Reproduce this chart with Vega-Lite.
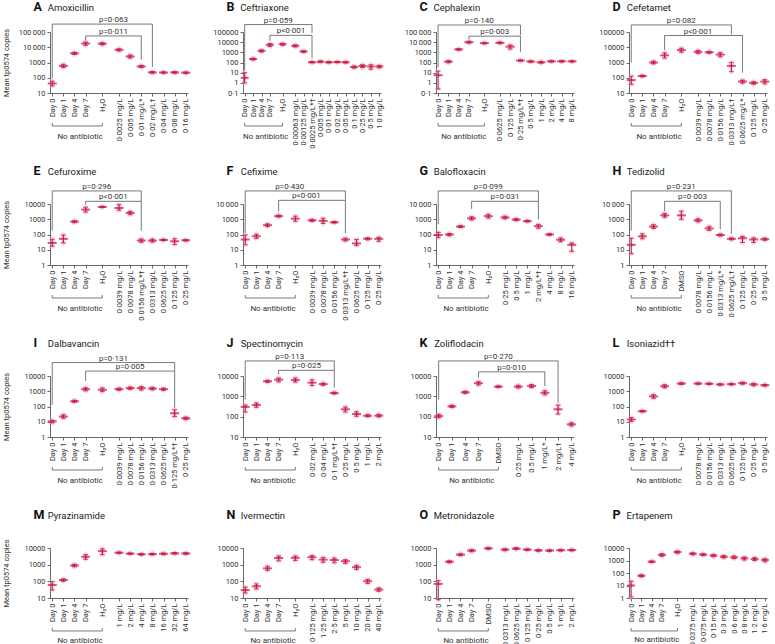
{
"$schema":"https://vega.github.io/schema/vega-lite/v6.json",
"padding":{"left":2,"top":0,"right":2,"bottom":0},
"background":"white",
"config":{
 "font":"Roboto",
 "view":{"stroke":null},
 "axis":{"grid":false,"domainColor":"#444","tickColor":"#444","labelColor":"#333","domainWidth":0.8,"tickWidth":0.8,"labelFontSize":7.5,"tickSize":3,"labelPadding":2,"titleFontWeight":"normal","titleFontSize":7.5,"titleColor":"#333","labelOverlap":false},
 "axisTop":{"domain":false,"ticks":false,"tickSize":0,"labelAngle":0,"labelAlign":"left","labelBaseline":"alphabetic","labelFontSize":9.5,"labelColor":"#222","labelFlush":false,"labelOverlap":false,"labelBound":false,"labelOffset":-5,"titleX":-17,"titleAlign":"left","titleBaseline":"alphabetic","titleFontSize":12.5,"titleFontWeight":"bold","titleColor":"#111","titleAngle":0}
},
"datasets":{
"g":[
{"p":"A","c":"Day 0","m":42,"lo":29,"hi":60},{"p":"A","c":"Day 1","m":600,"lo":470,"hi":760},{"p":"A","c":"Day 4","m":4000,"lo":3400,"hi":4600},{"p":"A","c":"Day 7","m":17500,"lo":13500,"hi":22000},{"p":"A","c":"H₂O","m":17000,"lo":14500,"hi":20000},{"p":"A","c":"0·0025 mg/L","m":6800,"lo":5700,"hi":8000},{"p":"A","c":"0·005 mg/L","m":2500,"lo":1950,"hi":3100},{"p":"A","c":"0·01 mg/L*","m":550,"lo":470,"hi":640},{"p":"A","c":"0·02 mg/L†","m":225,"lo":200,"hi":255},{"p":"A","c":"0·04 mg/L","m":220,"lo":195,"hi":245},{"p":"A","c":"0·08 mg/L","m":225,"lo":200,"hi":250},{"p":"A","c":"0·16 mg/L","m":215,"lo":190,"hi":240},
{"p":"B","c":"Day 0","m":3.1,"lo":1.0,"hi":10},{"p":"B","c":"Day 1","m":220,"lo":180,"hi":260},{"p":"B","c":"Day 4","m":1400,"lo":1100,"hi":1700},{"p":"B","c":"Day 7","m":5500,"lo":3800,"hi":7200},{"p":"B","c":"H₂O","m":6400,"lo":5000,"hi":7800},{"p":"B","c":"0·00063 mg/L","m":4400,"lo":3400,"hi":5400},{"p":"B","c":"0·00125 mg/L","m":1200,"lo":1000,"hi":1450},{"p":"B","c":"0·0025 mg/L*†","m":105,"lo":95,"hi":120},{"p":"B","c":"0·005 mg/L","m":120,"lo":105,"hi":140},{"p":"B","c":"0·01 mg/L","m":105,"lo":92,"hi":120},{"p":"B","c":"0·02 mg/L","m":110,"lo":98,"hi":125},{"p":"B","c":"0·05 mg/L","m":105,"lo":92,"hi":120},{"p":"B","c":"0·1 mg/L","m":36,"lo":28,"hi":45},{"p":"B","c":"0·25 mg/L","m":45,"lo":32,"hi":60},{"p":"B","c":"0·5 mg/L","m":40,"lo":22,"hi":60},{"p":"B","c":"1·0 mg/L","m":40,"lo":30,"hi":52},
{"p":"C","c":"Day 0","m":5.6,"lo":0.25,"hi":14},{"p":"C","c":"Day 1","m":123,"lo":95,"hi":150},{"p":"C","c":"Day 4","m":1950,"lo":1650,"hi":2300},{"p":"C","c":"Day 7","m":10000,"lo":8000,"hi":12500},{"p":"C","c":"H₂O","m":8000,"lo":7000,"hi":9000},{"p":"C","c":"0·0625 mg/L","m":8600,"lo":7200,"hi":10000},{"p":"C","c":"0·125 mg/L","m":3600,"lo":2100,"hi":5200},{"p":"C","c":"0·25 mg/L*†","m":155,"lo":140,"hi":175},{"p":"C","c":"0·5 mg/L","m":125,"lo":110,"hi":140},{"p":"C","c":"1 mg/L","m":105,"lo":85,"hi":125},{"p":"C","c":"2 mg/L","m":130,"lo":115,"hi":145},{"p":"C","c":"4 mg/L","m":130,"lo":115,"hi":145},{"p":"C","c":"8 mg/L","m":130,"lo":115,"hi":145},
{"p":"D","c":"Day 0","m":70,"lo":37,"hi":125},{"p":"D","c":"Day 1","m":130,"lo":115,"hi":145},{"p":"D","c":"Day 4","m":1000,"lo":820,"hi":1230},{"p":"D","c":"Day 7","m":2950,"lo":1950,"hi":4300},{"p":"D","c":"H₂O","m":6500,"lo":4700,"hi":8600},{"p":"D","c":"0·0039 mg/L","m":5000,"lo":3900,"hi":6200},{"p":"D","c":"0·0078 mg/L","m":4700,"lo":4100,"hi":5300},{"p":"D","c":"0·0156 mg/L","m":3300,"lo":2400,"hi":4400},{"p":"D","c":"0·0313 mg/L†","m":600,"lo":250,"hi":1000},{"p":"D","c":"0·0625 mg/L*","m":57,"lo":44,"hi":70},{"p":"D","c":"0·125 mg/L","m":46,"lo":38,"hi":55},{"p":"D","c":"0·25 mg/L","m":56,"lo":40,"hi":75},
{"p":"E","c":"Day 0","m":28,"lo":17,"hi":49},{"p":"E","c":"Day 1","m":52,"lo":28,"hi":93},{"p":"E","c":"Day 4","m":700,"lo":600,"hi":800},{"p":"E","c":"Day 7","m":4300,"lo":2950,"hi":6200},{"p":"E","c":"H₂O","m":6400,"lo":5900,"hi":6900},{"p":"E","c":"0·0039 mg/L","m":5500,"lo":3900,"hi":9100},{"p":"E","c":"0·0078 mg/L","m":2600,"lo":2000,"hi":3300},{"p":"E","c":"0·0156 mg/L*†","m":40,"lo":31,"hi":51},{"p":"E","c":"0·0313 mg/L","m":40,"lo":32,"hi":50},{"p":"E","c":"0·0625 mg/L","m":44,"lo":40,"hi":48},{"p":"E","c":"0·125 mg/L","m":36,"lo":22,"hi":53},{"p":"E","c":"0·25 mg/L","m":42,"lo":38,"hi":46},
{"p":"F","c":"Day 0","m":47,"lo":21,"hi":93},{"p":"F","c":"Day 1","m":76,"lo":56,"hi":104},{"p":"F","c":"Day 4","m":410,"lo":330,"hi":500},{"p":"F","c":"Day 7","m":1600,"lo":1400,"hi":1850},{"p":"F","c":"H₂O","m":1100,"lo":740,"hi":1600},{"p":"F","c":"0·0039 mg/L","m":850,"lo":730,"hi":980},{"p":"F","c":"0·0078 mg/L","m":780,"lo":530,"hi":1150},{"p":"F","c":"0·0156 mg/L","m":630,"lo":570,"hi":700},{"p":"F","c":"0·0313 mg/L*†","m":47,"lo":38,"hi":57},{"p":"F","c":"0·0625 mg/L","m":26,"lo":19,"hi":47},{"p":"F","c":"0·125 mg/L","m":52,"lo":45,"hi":60},{"p":"F","c":"0·25 mg/L","m":52,"lo":36,"hi":66},
{"p":"G","c":"Day 0","m":93,"lo":63,"hi":138},{"p":"G","c":"Day 1","m":100,"lo":84,"hi":115},{"p":"G","c":"Day 4","m":330,"lo":290,"hi":380},{"p":"G","c":"Day 7","m":1150,"lo":900,"hi":1450},{"p":"G","c":"H₂O","m":1600,"lo":1200,"hi":2100},{"p":"G","c":"0·25 mg/L","m":1300,"lo":1070,"hi":1580},{"p":"G","c":"0·5 mg/L","m":950,"lo":820,"hi":1100},{"p":"G","c":"1 mg/L","m":750,"lo":680,"hi":840},{"p":"G","c":"2 mg/L*†","m":350,"lo":260,"hi":460},{"p":"G","c":"4 mg/L","m":100,"lo":91,"hi":110},{"p":"G","c":"8 mg/L","m":45,"lo":34,"hi":59},{"p":"G","c":"16 mg/L","m":21,"lo":8,"hi":28},
{"p":"H","c":"Day 0","m":21,"lo":5.6,"hi":56},{"p":"H","c":"Day 1","m":76,"lo":53,"hi":110},{"p":"H","c":"Day 4","m":330,"lo":250,"hi":440},{"p":"H","c":"Day 7","m":1800,"lo":1350,"hi":2400},{"p":"H","c":"DMSO","m":1800,"lo":1000,"hi":3400},{"p":"H","c":"0·0078 mg/L","m":850,"lo":680,"hi":1070},{"p":"H","c":"0·0156 mg/L","m":250,"lo":185,"hi":340},{"p":"H","c":"0·0313 mg/L*","m":93,"lo":80,"hi":105},{"p":"H","c":"0·0625 mg/L†","m":52,"lo":45,"hi":60},{"p":"H","c":"0·125 mg/L","m":57,"lo":30,"hi":75},{"p":"H","c":"0·25 mg/L","m":47,"lo":30,"hi":60},{"p":"H","c":"0·5 mg/L","m":49,"lo":42,"hi":58},
{"p":"I","c":"Day 0","m":10.5,"lo":8.5,"hi":12.5},{"p":"I","c":"Day 1","m":22,"lo":17,"hi":29},{"p":"I","c":"Day 4","m":220,"lo":190,"hi":255},{"p":"I","c":"Day 7","m":1370,"lo":1070,"hi":1700},{"p":"I","c":"H₂O","m":1250,"lo":950,"hi":1650},{"p":"I","c":"0·0039 mg/L","m":1370,"lo":1150,"hi":1600},{"p":"I","c":"0·0078 mg/L","m":1600,"lo":1350,"hi":1900},{"p":"I","c":"0·0156 mg/L","m":1600,"lo":1200,"hi":2000},{"p":"I","c":"0·0313 mg/L","m":1500,"lo":1250,"hi":1800},{"p":"I","c":"0·0625 mg/L","m":1370,"lo":1150,"hi":1600},{"p":"I","c":"0·125 mg/L*†","m":36,"lo":22,"hi":62},{"p":"I","c":"0·25 mg/L","m":17,"lo":14,"hi":20},
{"p":"J","c":"Day 0","m":300,"lo":170,"hi":370},{"p":"J","c":"Day 1","m":370,"lo":290,"hi":470},{"p":"J","c":"Day 4","m":5500,"lo":4900,"hi":6100},{"p":"J","c":"Day 7","m":6600,"lo":5200,"hi":8000},{"p":"J","c":"H₂O","m":6300,"lo":5000,"hi":8000},{"p":"J","c":"0·02 mg/L","m":4700,"lo":3400,"hi":6500},{"p":"J","c":"0·04 mg/L","m":4000,"lo":3500,"hi":4500},{"p":"J","c":"0·1 mg/L*†","m":1450,"lo":1300,"hi":1600},{"p":"J","c":"0·25 mg/L","m":230,"lo":170,"hi":300},{"p":"J","c":"0·5 mg/L","m":135,"lo":105,"hi":175},{"p":"J","c":"1 mg/L","m":112,"lo":100,"hi":125},{"p":"J","c":"2 mg/L","m":112,"lo":97,"hi":130},
{"p":"K","c":"Day 0","m":107,"lo":88,"hi":130},{"p":"K","c":"Day 1","m":320,"lo":285,"hi":360},{"p":"K","c":"Day 4","m":1580,"lo":1400,"hi":1780},{"p":"K","c":"Day 7","m":4400,"lo":3600,"hi":5300},{"p":"K","c":"DMSO","m":3000,"lo":2800,"hi":3200},{"p":"K","c":"0·25 mg/L","m":3000,"lo":2600,"hi":3500},{"p":"K","c":"0·5 mg/L","m":3200,"lo":2700,"hi":3800},{"p":"K","c":"1 mg/L*","m":1500,"lo":1200,"hi":1900},{"p":"K","c":"2 mg/L†","m":230,"lo":135,"hi":370},{"p":"K","c":"4 mg/L","m":42,"lo":35,"hi":50},
{"p":"L","c":"Day 0","m":14,"lo":10.5,"hi":19},{"p":"L","c":"Day 1","m":49,"lo":44,"hi":54},{"p":"L","c":"Day 4","m":460,"lo":350,"hi":600},{"p":"L","c":"Day 7","m":2150,"lo":1700,"hi":2700},{"p":"L","c":"H₂O","m":3200,"lo":2800,"hi":3600},{"p":"L","c":"0·0078 mg/L","m":3200,"lo":2900,"hi":3500},{"p":"L","c":"0·0156 mg/L","m":3100,"lo":2800,"hi":3400},{"p":"L","c":"0·0313 mg/L","m":2800,"lo":2550,"hi":3050},{"p":"L","c":"0·0625 mg/L","m":2900,"lo":2650,"hi":3200},{"p":"L","c":"0·125 mg/L","m":3400,"lo":2900,"hi":3900},{"p":"L","c":"0·25 mg/L","m":2800,"lo":2300,"hi":3300},{"p":"L","c":"0·5 mg/L","m":2500,"lo":2200,"hi":2800},
{"p":"M","c":"Day 0","m":60,"lo":30,"hi":95},{"p":"M","c":"Day 1","m":120,"lo":100,"hi":140},{"p":"M","c":"Day 4","m":900,"lo":750,"hi":1050},{"p":"M","c":"Day 7","m":3000,"lo":2100,"hi":4000},{"p":"M","c":"H₂O","m":6500,"lo":4000,"hi":9000},{"p":"M","c":"1 mg/L","m":5200,"lo":4700,"hi":5700},{"p":"M","c":"2 mg/L","m":4600,"lo":4200,"hi":5000},{"p":"M","c":"4 mg/L","m":4200,"lo":3800,"hi":4600},{"p":"M","c":"8 mg/L","m":4300,"lo":3900,"hi":4700},{"p":"M","c":"16 mg/L","m":4500,"lo":4000,"hi":5000},{"p":"M","c":"32 mg/L","m":4800,"lo":4300,"hi":5300},{"p":"M","c":"64 mg/L","m":4700,"lo":4200,"hi":5200},
{"p":"N","c":"Day 0","m":30,"lo":20,"hi":45},{"p":"N","c":"Day 1","m":50,"lo":35,"hi":70},{"p":"N","c":"Day 4","m":600,"lo":450,"hi":800},{"p":"N","c":"Day 7","m":2500,"lo":1700,"hi":3300},{"p":"N","c":"H₂O","m":2600,"lo":1800,"hi":3300},{"p":"N","c":"0·125 mg/L","m":2800,"lo":2000,"hi":3500},{"p":"N","c":"1·25 mg/L","m":2000,"lo":1400,"hi":2700},{"p":"N","c":"2·5 mg/L","m":1900,"lo":1300,"hi":2500},{"p":"N","c":"5 mg/L","m":1600,"lo":1200,"hi":2000},{"p":"N","c":"10 mg/L","m":700,"lo":520,"hi":900},{"p":"N","c":"20 mg/L","m":100,"lo":75,"hi":130},{"p":"N","c":"40 mg/L","m":32,"lo":25,"hi":40},
{"p":"O","c":"Day 0","m":70,"lo":8,"hi":110},{"p":"O","c":"Day 1","m":1500,"lo":1300,"hi":1700},{"p":"O","c":"Day 4","m":4000,"lo":3500,"hi":4500},{"p":"O","c":"Day 7","m":7000,"lo":6000,"hi":8000},{"p":"O","c":"DMSO","m":9500,"lo":8500,"hi":10500},{"p":"O","c":"0·0313 mg/L","m":8000,"lo":7000,"hi":9000},{"p":"O","c":"0·0625 mg/L","m":9200,"lo":8200,"hi":10200},{"p":"O","c":"0·125 mg/L","m":8000,"lo":7200,"hi":8800},{"p":"O","c":"0·25 mg/L","m":7200,"lo":6400,"hi":8000},{"p":"O","c":"0·5 mg/L","m":7000,"lo":6300,"hi":7700},{"p":"O","c":"1 mg/L","m":7400,"lo":6700,"hi":8100},{"p":"O","c":"2 mg/L","m":7500,"lo":6800,"hi":8200},
{"p":"P","c":"Day 0","m":10,"lo":1.2,"hi":22},{"p":"P","c":"Day 1","m":60,"lo":50,"hi":72},{"p":"P","c":"Day 4","m":800,"lo":700,"hi":920},{"p":"P","c":"Day 7","m":2800,"lo":2200,"hi":3500},{"p":"P","c":"H₂O","m":4800,"lo":3800,"hi":5800},{"p":"P","c":"0·0375 mg/L","m":3500,"lo":2900,"hi":4100},{"p":"P","c":"0·075 mg/L","m":3000,"lo":2500,"hi":3500},{"p":"P","c":"0·15 mg/L","m":2500,"lo":2000,"hi":3000},{"p":"P","c":"0·3 mg/L","m":2000,"lo":1600,"hi":2500},{"p":"P","c":"0·6 mg/L","m":1800,"lo":1400,"hi":2300},{"p":"P","c":"0·8 mg/L","m":1500,"lo":1100,"hi":1900},{"p":"P","c":"1·2 mg/L","m":1300,"lo":1000,"hi":1700},{"p":"P","c":"1·6 mg/L","m":1100,"lo":800,"hi":1400}
],
"ln":[
{"p":"A","b":1,"o":1,"c":"Day 0","y":90},{"p":"A","b":1,"o":2,"c":"Day 0","y":330000},{"p":"A","b":1,"o":3,"c":"0·02 mg/L†","y":330000},{"p":"A","b":1,"o":4,"c":"0·02 mg/L†","y":500},
{"p":"A","b":2,"o":1,"c":"Day 7","y":28000},{"p":"A","b":2,"o":2,"c":"Day 7","y":55000},{"p":"A","b":2,"o":3,"c":"0·01 mg/L*","y":55000},{"p":"A","b":2,"o":4,"c":"0·01 mg/L*","y":1500},
{"p":"A","b":3,"o":1,"c":"Day 0","y":0.108},{"p":"A","b":3,"o":2,"c":"Day 0","y":0.0686},{"p":"A","b":3,"o":3,"c":"H₂O","y":0.0686},{"p":"A","b":3,"o":4,"c":"H₂O","y":0.108},
{"p":"B","b":1,"o":1,"c":"Day 0","y":18},{"p":"B","b":1,"o":2,"c":"Day 0","y":540000},{"p":"B","b":1,"o":3,"c":"0·0025 mg/L*†","y":540000},{"p":"B","b":1,"o":4,"c":"0·0025 mg/L*†","y":80000},
{"p":"B","b":2,"o":1,"c":"Day 7","y":14000},{"p":"B","b":2,"o":2,"c":"Day 7","y":47000},{"p":"B","b":2,"o":3,"c":"0·0025 mg/L*†","y":47000},{"p":"B","b":2,"o":4,"c":"0·0025 mg/L*†","y":260},
{"p":"B","b":3,"o":1,"c":"Day 0","y":0.000112},{"p":"B","b":3,"o":2,"c":"Day 0","y":0.0000568},{"p":"B","b":3,"o":3,"c":"H₂O","y":0.0000568},{"p":"B","b":3,"o":4,"c":"H₂O","y":0.000112},
{"p":"C","b":1,"o":1,"c":"Day 0","y":32},{"p":"C","b":1,"o":2,"c":"Day 0","y":490000},{"p":"C","b":1,"o":3,"c":"0·25 mg/L*†","y":490000},{"p":"C","b":1,"o":4,"c":"0·25 mg/L*†","y":50000},
{"p":"C","b":2,"o":1,"c":"Day 7","y":20000},{"p":"C","b":2,"o":2,"c":"Day 7","y":39000},{"p":"C","b":2,"o":3,"c":"0·25 mg/L*†","y":39000},{"p":"C","b":2,"o":4,"c":"0·25 mg/L*†","y":1100},
{"p":"C","b":3,"o":1,"c":"Day 0","y":0.000112},{"p":"C","b":3,"o":2,"c":"Day 0","y":0.0000568},{"p":"C","b":3,"o":3,"c":"H₂O","y":0.0000568},{"p":"C","b":3,"o":4,"c":"H₂O","y":0.000112},
{"p":"D","b":1,"o":1,"c":"Day 0","y":1000},{"p":"D","b":1,"o":2,"c":"Day 0","y":290000},{"p":"D","b":1,"o":3,"c":"0·0313 mg/L†","y":290000},{"p":"D","b":1,"o":4,"c":"0·0313 mg/L†","y":69000},
{"p":"D","b":2,"o":1,"c":"Day 7","y":6500},{"p":"D","b":2,"o":2,"c":"Day 7","y":59000},{"p":"D","b":2,"o":3,"c":"0·0625 mg/L*","y":59000},{"p":"D","b":2,"o":4,"c":"0·0625 mg/L*","y":215},
{"p":"D","b":3,"o":1,"c":"Day 0","y":0.108},{"p":"D","b":3,"o":2,"c":"Day 0","y":0.0686},{"p":"D","b":3,"o":3,"c":"H₂O","y":0.0686},{"p":"D","b":3,"o":4,"c":"H₂O","y":0.108},
{"p":"E","b":1,"o":1,"c":"Day 0","y":180},{"p":"E","b":1,"o":2,"c":"Day 0","y":72000},{"p":"E","b":1,"o":3,"c":"0·0156 mg/L*†","y":72000},{"p":"E","b":1,"o":4,"c":"0·0156 mg/L*†","y":15000},
{"p":"E","b":2,"o":1,"c":"Day 7","y":9000},{"p":"E","b":2,"o":2,"c":"Day 7","y":15000},{"p":"E","b":2,"o":3,"c":"0·0156 mg/L*†","y":15000},{"p":"E","b":2,"o":4,"c":"0·0156 mg/L*†","y":180},
{"p":"E","b":3,"o":1,"c":"Day 0","y":0.0108},{"p":"E","b":3,"o":2,"c":"Day 0","y":0.00686},{"p":"E","b":3,"o":3,"c":"H₂O","y":0.00686},{"p":"E","b":3,"o":4,"c":"H₂O","y":0.0108},
{"p":"F","b":1,"o":1,"c":"Day 0","y":125},{"p":"F","b":1,"o":2,"c":"Day 0","y":72000},{"p":"F","b":1,"o":3,"c":"0·0313 mg/L*†","y":72000},{"p":"F","b":1,"o":4,"c":"0·0313 mg/L*†","y":17400},
{"p":"F","b":2,"o":1,"c":"Day 7","y":3400},{"p":"F","b":2,"o":2,"c":"Day 7","y":17400},{"p":"F","b":2,"o":3,"c":"0·0313 mg/L*†","y":17400},{"p":"F","b":2,"o":4,"c":"0·0313 mg/L*†","y":125},
{"p":"F","b":3,"o":1,"c":"Day 0","y":0.0108},{"p":"F","b":3,"o":2,"c":"Day 0","y":0.00686},{"p":"F","b":3,"o":3,"c":"H₂O","y":0.00686},{"p":"F","b":3,"o":4,"c":"H₂O","y":0.0108},
{"p":"G","b":1,"o":1,"c":"Day 0","y":470},{"p":"G","b":1,"o":2,"c":"Day 0","y":72000},{"p":"G","b":1,"o":3,"c":"2 mg/L*†","y":72000},{"p":"G","b":1,"o":4,"c":"2 mg/L*†","y":15000},
{"p":"G","b":2,"o":1,"c":"Day 7","y":4800},{"p":"G","b":2,"o":2,"c":"Day 7","y":15000},{"p":"G","b":2,"o":3,"c":"2 mg/L*†","y":15000},{"p":"G","b":2,"o":4,"c":"2 mg/L*†","y":1000},
{"p":"G","b":3,"o":1,"c":"Day 0","y":0.0108},{"p":"G","b":3,"o":2,"c":"Day 0","y":0.00686},{"p":"G","b":3,"o":3,"c":"H₂O","y":0.00686},{"p":"G","b":3,"o":4,"c":"H₂O","y":0.0108},
{"p":"H","b":1,"o":1,"c":"Day 0","y":180},{"p":"H","b":1,"o":2,"c":"Day 0","y":72000},{"p":"H","b":1,"o":3,"c":"0·0625 mg/L†","y":72000},{"p":"H","b":1,"o":4,"c":"0·0625 mg/L†","y":110},
{"p":"H","b":2,"o":1,"c":"Day 7","y":3400},{"p":"H","b":2,"o":2,"c":"Day 7","y":15000},{"p":"H","b":2,"o":3,"c":"0·0313 mg/L*","y":15000},{"p":"H","b":2,"o":4,"c":"0·0313 mg/L*","y":220},
{"p":"H","b":3,"o":1,"c":"Day 0","y":0.0108},{"p":"H","b":3,"o":2,"c":"Day 0","y":0.00686},{"p":"H","b":3,"o":3,"c":"DMSO","y":0.00686},{"p":"H","b":3,"o":4,"c":"DMSO","y":0.0108},
{"p":"I","b":1,"o":1,"c":"Day 0","y":130},{"p":"I","b":1,"o":2,"c":"Day 0","y":76000},{"p":"I","b":1,"o":3,"c":"0·125 mg/L*†","y":76000},{"p":"I","b":1,"o":4,"c":"0·125 mg/L*†","y":21000},
{"p":"I","b":2,"o":1,"c":"Day 7","y":4700},{"p":"I","b":2,"o":2,"c":"Day 7","y":21000},{"p":"I","b":2,"o":3,"c":"0·125 mg/L*†","y":21000},{"p":"I","b":2,"o":4,"c":"0·125 mg/L*†","y":80},
{"p":"I","b":3,"o":1,"c":"Day 0","y":0.0108},{"p":"I","b":3,"o":2,"c":"Day 0","y":0.00686},{"p":"I","b":3,"o":3,"c":"H₂O","y":0.00686},{"p":"I","b":3,"o":4,"c":"H₂O","y":0.0108},
{"p":"J","b":1,"o":1,"c":"Day 0","y":700},{"p":"J","b":1,"o":2,"c":"Day 0","y":55000},{"p":"J","b":1,"o":3,"c":"0·1 mg/L*†","y":55000},{"p":"J","b":1,"o":4,"c":"0·1 mg/L*†","y":19000},
{"p":"J","b":2,"o":1,"c":"Day 7","y":12000},{"p":"J","b":2,"o":2,"c":"Day 7","y":19000},{"p":"J","b":2,"o":3,"c":"0·1 mg/L*†","y":19000},{"p":"J","b":2,"o":4,"c":"0·1 mg/L*†","y":2700},
{"p":"J","b":3,"o":1,"c":"Day 0","y":0.335},{"p":"J","b":3,"o":2,"c":"Day 0","y":0.238},{"p":"J","b":3,"o":3,"c":"H₂O","y":0.238},{"p":"J","b":3,"o":4,"c":"H₂O","y":0.335},
{"p":"K","b":1,"o":1,"c":"Day 0","y":700},{"p":"K","b":1,"o":2,"c":"Day 0","y":55000},{"p":"K","b":1,"o":3,"c":"2 mg/L†","y":55000},{"p":"K","b":1,"o":4,"c":"2 mg/L†","y":490},
{"p":"K","b":2,"o":1,"c":"Day 7","y":8300},{"p":"K","b":2,"o":2,"c":"Day 7","y":16000},{"p":"K","b":2,"o":3,"c":"1 mg/L*","y":16000},{"p":"K","b":2,"o":4,"c":"1 mg/L*","y":3200},
{"p":"K","b":3,"o":1,"c":"Day 0","y":0.335},{"p":"K","b":3,"o":2,"c":"Day 0","y":0.238},{"p":"K","b":3,"o":3,"c":"DMSO","y":0.238},{"p":"K","b":3,"o":4,"c":"DMSO","y":0.335},
{"p":"L","b":3,"o":1,"c":"Day 0","y":0.0108},{"p":"L","b":3,"o":2,"c":"Day 0","y":0.00686},{"p":"L","b":3,"o":3,"c":"H₂O","y":0.00686},{"p":"L","b":3,"o":4,"c":"H₂O","y":0.0108},
{"p":"M","b":3,"o":1,"c":"Day 0","y":0.158},{"p":"M","b":3,"o":2,"c":"Day 0","y":0.105},{"p":"M","b":3,"o":3,"c":"H₂O","y":0.105},{"p":"M","b":3,"o":4,"c":"H₂O","y":0.158},
{"p":"N","b":3,"o":1,"c":"Day 0","y":0.158},{"p":"N","b":3,"o":2,"c":"Day 0","y":0.105},{"p":"N","b":3,"o":3,"c":"H₂O","y":0.105},{"p":"N","b":3,"o":4,"c":"H₂O","y":0.158},
{"p":"O","b":3,"o":1,"c":"Day 0","y":0.158},{"p":"O","b":3,"o":2,"c":"Day 0","y":0.105},{"p":"O","b":3,"o":3,"c":"DMSO","y":0.105},{"p":"O","b":3,"o":4,"c":"DMSO","y":0.158},
{"p":"P","b":3,"o":1,"c":"Day 0","y":0.004},{"p":"P","b":3,"o":2,"c":"Day 0","y":0.0023},{"p":"P","b":3,"o":3,"c":"H₂O","y":0.0023},{"p":"P","b":3,"o":4,"c":"H₂O","y":0.004}
],
"tx":[
{"p":"A","c":"_7","y":600000,"t":"p=0·063"},{"p":"A","c":"_7","y":100000,"t":"p=0·011"},{"p":"A","c":"_3","y":0.013,"t":"No antibiotic"},
{"p":"B","c":"_5","y":1300000,"t":"p=0·059"},{"p":"B","c":"_7","y":115000,"t":"p<0·001"},{"p":"B","c":"_3","y":0.0000047,"t":"No antibiotic"},
{"p":"C","c":"_5","y":1200000,"t":"p=0·140"},{"p":"C","c":"_7","y":95000,"t":"p=0·003"},{"p":"C","c":"_3","y":0.0000047,"t":"No antibiotic"},
{"p":"D","c":"H₂O","y":520000,"t":"p=0·082"},{"p":"D","c":"0·0039 mg/L","y":107000,"t":"p<0·001"},{"p":"D","c":"_3","y":0.013,"t":"No antibiotic"},
{"p":"E","c":"_5","y":130000,"t":"p=0·296"},{"p":"E","c":"_7","y":27000,"t":"p<0·001"},{"p":"E","c":"_3","y":0.0013,"t":"No antibiotic"},
{"p":"F","c":"_5","y":130000,"t":"p=0·430"},{"p":"F","c":"_7","y":32000,"t":"p<0·001"},{"p":"F","c":"_3","y":0.0013,"t":"No antibiotic"},
{"p":"G","c":"H₂O","y":130000,"t":"p=0·099"},{"p":"G","c":"0·25 mg/L","y":27000,"t":"p=0·031"},{"p":"G","c":"_3","y":0.0013,"t":"No antibiotic"},
{"p":"H","c":"DMSO","y":130000,"t":"p=0·231"},{"p":"H","c":"_7","y":27000,"t":"p=0·003"},{"p":"H","c":"_3","y":0.0013,"t":"No antibiotic"},
{"p":"I","c":"_7","y":137000,"t":"p=0·131"},{"p":"I","c":"0·0078 mg/L","y":39000,"t":"p=0·005"},{"p":"I","c":"_3","y":0.0013,"t":"No antibiotic"},
{"p":"J","c":"_5","y":87000,"t":"p=0·113"},{"p":"J","c":"_7","y":30000,"t":"p=0·025"},{"p":"J","c":"_3","y":0.0686,"t":"No antibiotic"},
{"p":"K","c":"DMSO","y":87000,"t":"p=0·270"},{"p":"K","c":"_7","y":26000,"t":"p=0·010"},{"p":"K","c":"_3","y":0.0686,"t":"No antibiotic"},
{"p":"L","c":"_3","y":0.0013,"t":"No antibiotic"},
{"p":"M","c":"_3","y":0.028,"t":"No antibiotic"},
{"p":"N","c":"_3","y":0.028,"t":"No antibiotic"},
{"p":"O","c":"_3","y":0.028,"t":"No antibiotic"},
{"p":"P","c":"_3","y":0.00042,"t":"No antibiotic"}
]
},
"columns":4,
"spacing":{"row":111,"column":55},
"bounds":"flush",
"concat":[
{"width":138,"height":61,"resolve":{"axis":{"x":"independent","y":"independent"}},"layer":[
{"data":{"name":"g"},"transform":[{"filter":"datum.p==='A'"},{"fold":["lo","m","hi"],"as":["k","v"]}],"mark":{"type":"circle","size":24,"opacity":0.5,"color":"#f3aabd"},"encoding":{"x":{"field":"c","type":"nominal","scale":{"type":"point"},"axis":{"orient":"top","values":["Day 0"],"labelExpr":"'Amoxicillin'","labelPadding":21.5,"title":"A","titleY":-21.5}},"y":{"field":"v","type":"quantitative","scale":{"type":"log"},"axis":null}}},
{"data":{"name":"g"},"transform":[{"filter":"datum.p==='A'"}],"mark":{"type":"rule","color":"#c8103c","strokeWidth":1.1},"encoding":{"x":{"field":"c","type":"nominal","scale":{"type":"point"},"axis":null},"y":{"field":"lo","type":"quantitative","scale":{"type":"log"},"axis":null},"y2":{"field":"hi"}}},
{"data":{"name":"g"},"transform":[{"filter":"datum.p==='A'"},{"fold":["lo","hi"],"as":["k","v"]}],"mark":{"type":"tick","color":"#c8103c","size":5,"thickness":1.1},"encoding":{"x":{"field":"c","type":"nominal","scale":{"type":"point"},"axis":null},"y":{"field":"v","type":"quantitative","scale":{"type":"log"},"axis":null}}},
{"data":{"name":"g"},"transform":[{"filter":"datum.p==='A'"}],"mark":{"type":"tick","color":"#c8103c","size":9,"thickness":2},"encoding":{"x":{"field":"c","type":"nominal","scale":{"type":"point","padding":0.4,"domain":["Day 0","_1","Day 1","_2","Day 4","_3","Day 7","_4","_5","H₂O","_6","_7","0·0025 mg/L","_8","0·005 mg/L","_9","0·01 mg/L*","_10","0·02 mg/L†","_11","0·04 mg/L","_12","0·08 mg/L","_13","0·16 mg/L"]},"axis":{"orient":"bottom","title":null,"labelAngle":-90,"values":["Day 0","Day 1","Day 4","Day 7","H₂O","0·0025 mg/L","0·005 mg/L","0·01 mg/L*","0·02 mg/L†","0·04 mg/L","0·08 mg/L","0·16 mg/L"]}},"y":{"field":"m","type":"quantitative","scale":{"type":"log","domain":[10,100000]},"axis":{"orient":"left","values":[10,100,1000,10000,100000],"labelExpr":"datum.value >= 10000 ? replace(format(datum.value, ','), ',', '\u2009') : replace(format(datum.value, '~r'), '.', '·')","title":"Mean tp0574 copies","titlePadding":8}}}},
{"data":{"name":"ln"},"transform":[{"filter":"datum.p==='A'"}],"mark":{"type":"line","color":"#555","strokeWidth":0.8},"encoding":{"x":{"field":"c","type":"nominal","scale":{"type":"point"},"axis":null},"y":{"field":"y","type":"quantitative","scale":{"type":"log"},"axis":null},"detail":{"field":"b"},"order":{"field":"o"}}},
{"data":{"name":"tx"},"transform":[{"filter":"datum.p==='A'"}],"mark":{"type":"text","fontSize":8,"color":"#333","baseline":"middle"},"encoding":{"x":{"field":"c","type":"nominal","scale":{"type":"point"},"axis":null},"y":{"field":"y","type":"quantitative","scale":{"type":"log"},"axis":null},"text":{"field":"t"}}}
]},
{"width":138,"height":61,"resolve":{"axis":{"x":"independent","y":"independent"}},"layer":[
{"data":{"name":"g"},"transform":[{"filter":"datum.p==='B'"},{"fold":["lo","m","hi"],"as":["k","v"]}],"mark":{"type":"circle","size":24,"opacity":0.5,"color":"#f3aabd"},"encoding":{"x":{"field":"c","type":"nominal","scale":{"type":"point"},"axis":{"orient":"top","values":["Day 0"],"labelExpr":"'Ceftriaxone'","labelPadding":21.5,"title":"B","titleY":-21.5}},"y":{"field":"v","type":"quantitative","scale":{"type":"log"},"axis":null}}},
{"data":{"name":"g"},"transform":[{"filter":"datum.p==='B'"}],"mark":{"type":"rule","color":"#c8103c","strokeWidth":1.1},"encoding":{"x":{"field":"c","type":"nominal","scale":{"type":"point"},"axis":null},"y":{"field":"lo","type":"quantitative","scale":{"type":"log"},"axis":null},"y2":{"field":"hi"}}},
{"data":{"name":"g"},"transform":[{"filter":"datum.p==='B'"},{"fold":["lo","hi"],"as":["k","v"]}],"mark":{"type":"tick","color":"#c8103c","size":5,"thickness":1.1},"encoding":{"x":{"field":"c","type":"nominal","scale":{"type":"point"},"axis":null},"y":{"field":"v","type":"quantitative","scale":{"type":"log"},"axis":null}}},
{"data":{"name":"g"},"transform":[{"filter":"datum.p==='B'"}],"mark":{"type":"tick","color":"#c8103c","size":8,"thickness":2},"encoding":{"x":{"field":"c","type":"nominal","scale":{"type":"point","padding":0.4,"domain":["Day 0","_1","Day 1","_2","Day 4","_3","Day 7","_4","_5","H₂O","_6","_7","0·00063 mg/L","_8","0·00125 mg/L","_9","0·0025 mg/L*†","_10","0·005 mg/L","_11","0·01 mg/L","_12","0·02 mg/L","_13","0·05 mg/L","_14","0·1 mg/L","_15","0·25 mg/L","_16","0·5 mg/L","_17","1·0 mg/L"]},"axis":{"orient":"bottom","title":null,"labelAngle":-90,"values":["Day 0","Day 1","Day 4","Day 7","H₂O","0·00063 mg/L","0·00125 mg/L","0·0025 mg/L*†","0·005 mg/L","0·01 mg/L","0·02 mg/L","0·05 mg/L","0·1 mg/L","0·25 mg/L","0·5 mg/L","1·0 mg/L"]}},"y":{"field":"m","type":"quantitative","scale":{"type":"log","domain":[0.1,100000]},"axis":{"orient":"left","values":[0.1,1,10,100,1000,10000,100000],"labelExpr":"replace(format(datum.value, '~r'), '.', '·')","title":null}}}},
{"data":{"name":"ln"},"transform":[{"filter":"datum.p==='B'"}],"mark":{"type":"line","color":"#555","strokeWidth":0.8},"encoding":{"x":{"field":"c","type":"nominal","scale":{"type":"point"},"axis":null},"y":{"field":"y","type":"quantitative","scale":{"type":"log"},"axis":null},"detail":{"field":"b"},"order":{"field":"o"}}},
{"data":{"name":"tx"},"transform":[{"filter":"datum.p==='B'"}],"mark":{"type":"text","fontSize":8,"color":"#333","baseline":"middle"},"encoding":{"x":{"field":"c","type":"nominal","scale":{"type":"point"},"axis":null},"y":{"field":"y","type":"quantitative","scale":{"type":"log"},"axis":null},"text":{"field":"t"}}}
]},
{"width":138,"height":61,"resolve":{"axis":{"x":"independent","y":"independent"}},"layer":[
{"data":{"name":"g"},"transform":[{"filter":"datum.p==='C'"},{"fold":["lo","m","hi"],"as":["k","v"]}],"mark":{"type":"circle","size":24,"opacity":0.5,"color":"#f3aabd"},"encoding":{"x":{"field":"c","type":"nominal","scale":{"type":"point"},"axis":{"orient":"top","values":["Day 0"],"labelExpr":"'Cephalexin'","labelPadding":21.5,"title":"C","titleY":-21.5}},"y":{"field":"v","type":"quantitative","scale":{"type":"log"},"axis":null}}},
{"data":{"name":"g"},"transform":[{"filter":"datum.p==='C'"}],"mark":{"type":"rule","color":"#c8103c","strokeWidth":1.1},"encoding":{"x":{"field":"c","type":"nominal","scale":{"type":"point"},"axis":null},"y":{"field":"lo","type":"quantitative","scale":{"type":"log"},"axis":null},"y2":{"field":"hi"}}},
{"data":{"name":"g"},"transform":[{"filter":"datum.p==='C'"},{"fold":["lo","hi"],"as":["k","v"]}],"mark":{"type":"tick","color":"#c8103c","size":5,"thickness":1.1},"encoding":{"x":{"field":"c","type":"nominal","scale":{"type":"point"},"axis":null},"y":{"field":"v","type":"quantitative","scale":{"type":"log"},"axis":null}}},
{"data":{"name":"g"},"transform":[{"filter":"datum.p==='C'"}],"mark":{"type":"tick","color":"#c8103c","size":9,"thickness":2},"encoding":{"x":{"field":"c","type":"nominal","scale":{"type":"point","padding":0.4,"domain":["Day 0","_1","Day 1","_2","Day 4","_3","Day 7","_4","_5","H₂O","_6","_7","0·0625 mg/L","_8","0·125 mg/L","_9","0·25 mg/L*†","_10","0·5 mg/L","_11","1 mg/L","_12","2 mg/L","_13","4 mg/L","_14","8 mg/L"]},"axis":{"orient":"bottom","title":null,"labelAngle":-90,"values":["Day 0","Day 1","Day 4","Day 7","H₂O","0·0625 mg/L","0·125 mg/L","0·25 mg/L*†","0·5 mg/L","1 mg/L","2 mg/L","4 mg/L","8 mg/L"]}},"y":{"field":"m","type":"quantitative","scale":{"type":"log","domain":[0.1,100000]},"axis":{"orient":"left","values":[0.1,1,10,100,1000,10000,100000],"labelExpr":"datum.value >= 10000 ? replace(format(datum.value, ','), ',', '\u2009') : replace(format(datum.value, '~r'), '.', '·')","title":null}}}},
{"data":{"name":"ln"},"transform":[{"filter":"datum.p==='C'"}],"mark":{"type":"line","color":"#555","strokeWidth":0.8},"encoding":{"x":{"field":"c","type":"nominal","scale":{"type":"point"},"axis":null},"y":{"field":"y","type":"quantitative","scale":{"type":"log"},"axis":null},"detail":{"field":"b"},"order":{"field":"o"}}},
{"data":{"name":"tx"},"transform":[{"filter":"datum.p==='C'"}],"mark":{"type":"text","fontSize":8,"color":"#333","baseline":"middle"},"encoding":{"x":{"field":"c","type":"nominal","scale":{"type":"point"},"axis":null},"y":{"field":"y","type":"quantitative","scale":{"type":"log"},"axis":null},"text":{"field":"t"}}}
]},
{"width":138,"height":61,"resolve":{"axis":{"x":"independent","y":"independent"}},"layer":[
{"data":{"name":"g"},"transform":[{"filter":"datum.p==='D'"},{"fold":["lo","m","hi"],"as":["k","v"]}],"mark":{"type":"circle","size":24,"opacity":0.5,"color":"#f3aabd"},"encoding":{"x":{"field":"c","type":"nominal","scale":{"type":"point"},"axis":{"orient":"top","values":["Day 0"],"labelExpr":"'Cefetamet'","labelPadding":21.5,"title":"D","titleY":-21.5}},"y":{"field":"v","type":"quantitative","scale":{"type":"log"},"axis":null}}},
{"data":{"name":"g"},"transform":[{"filter":"datum.p==='D'"}],"mark":{"type":"rule","color":"#c8103c","strokeWidth":1.1},"encoding":{"x":{"field":"c","type":"nominal","scale":{"type":"point"},"axis":null},"y":{"field":"lo","type":"quantitative","scale":{"type":"log"},"axis":null},"y2":{"field":"hi"}}},
{"data":{"name":"g"},"transform":[{"filter":"datum.p==='D'"},{"fold":["lo","hi"],"as":["k","v"]}],"mark":{"type":"tick","color":"#c8103c","size":5,"thickness":1.1},"encoding":{"x":{"field":"c","type":"nominal","scale":{"type":"point"},"axis":null},"y":{"field":"v","type":"quantitative","scale":{"type":"log"},"axis":null}}},
{"data":{"name":"g"},"transform":[{"filter":"datum.p==='D'"}],"mark":{"type":"tick","color":"#c8103c","size":9,"thickness":2},"encoding":{"x":{"field":"c","type":"nominal","scale":{"type":"point","padding":0.4,"domain":["Day 0","_1","Day 1","_2","Day 4","_3","Day 7","_4","_5","H₂O","_6","_7","0·0039 mg/L","_8","0·0078 mg/L","_9","0·0156 mg/L","_10","0·0313 mg/L†","_11","0·0625 mg/L*","_12","0·125 mg/L","_13","0·25 mg/L"]},"axis":{"orient":"bottom","title":null,"labelAngle":-90,"values":["Day 0","Day 1","Day 4","Day 7","H₂O","0·0039 mg/L","0·0078 mg/L","0·0156 mg/L","0·0313 mg/L†","0·0625 mg/L*","0·125 mg/L","0·25 mg/L"]}},"y":{"field":"m","type":"quantitative","scale":{"type":"log","domain":[10,100000]},"axis":{"orient":"left","values":[10,100,1000,10000,100000],"labelExpr":"replace(format(datum.value, '~r'), '.', '·')","title":null}}}},
{"data":{"name":"ln"},"transform":[{"filter":"datum.p==='D'"}],"mark":{"type":"line","color":"#555","strokeWidth":0.8},"encoding":{"x":{"field":"c","type":"nominal","scale":{"type":"point"},"axis":null},"y":{"field":"y","type":"quantitative","scale":{"type":"log"},"axis":null},"detail":{"field":"b"},"order":{"field":"o"}}},
{"data":{"name":"tx"},"transform":[{"filter":"datum.p==='D'"}],"mark":{"type":"text","fontSize":8,"color":"#333","baseline":"middle"},"encoding":{"x":{"field":"c","type":"nominal","scale":{"type":"point"},"axis":null},"y":{"field":"y","type":"quantitative","scale":{"type":"log"},"axis":null},"text":{"field":"t"}}}
]},
{"width":138,"height":61,"resolve":{"axis":{"x":"independent","y":"independent"}},"layer":[
{"data":{"name":"g"},"transform":[{"filter":"datum.p==='E'"},{"fold":["lo","m","hi"],"as":["k","v"]}],"mark":{"type":"circle","size":24,"opacity":0.5,"color":"#f3aabd"},"encoding":{"x":{"field":"c","type":"nominal","scale":{"type":"point"},"axis":{"orient":"top","values":["Day 0"],"labelExpr":"'Cefuroxime'","labelPadding":29.5,"title":"E","titleY":-29.5}},"y":{"field":"v","type":"quantitative","scale":{"type":"log"},"axis":null}}},
{"data":{"name":"g"},"transform":[{"filter":"datum.p==='E'"}],"mark":{"type":"rule","color":"#c8103c","strokeWidth":1.1},"encoding":{"x":{"field":"c","type":"nominal","scale":{"type":"point"},"axis":null},"y":{"field":"lo","type":"quantitative","scale":{"type":"log"},"axis":null},"y2":{"field":"hi"}}},
{"data":{"name":"g"},"transform":[{"filter":"datum.p==='E'"},{"fold":["lo","hi"],"as":["k","v"]}],"mark":{"type":"tick","color":"#c8103c","size":5,"thickness":1.1},"encoding":{"x":{"field":"c","type":"nominal","scale":{"type":"point"},"axis":null},"y":{"field":"v","type":"quantitative","scale":{"type":"log"},"axis":null}}},
{"data":{"name":"g"},"transform":[{"filter":"datum.p==='E'"}],"mark":{"type":"tick","color":"#c8103c","size":9,"thickness":2},"encoding":{"x":{"field":"c","type":"nominal","scale":{"type":"point","padding":0.4,"domain":["Day 0","_1","Day 1","_2","Day 4","_3","Day 7","_4","_5","H₂O","_6","_7","0·0039 mg/L","_8","0·0078 mg/L","_9","0·0156 mg/L*†","_10","0·0313 mg/L","_11","0·0625 mg/L","_12","0·125 mg/L","_13","0·25 mg/L"]},"axis":{"orient":"bottom","title":null,"labelAngle":-90,"values":["Day 0","Day 1","Day 4","Day 7","H₂O","0·0039 mg/L","0·0078 mg/L","0·0156 mg/L*†","0·0313 mg/L","0·0625 mg/L","0·125 mg/L","0·25 mg/L"]}},"y":{"field":"m","type":"quantitative","scale":{"type":"log","domain":[1,10000]},"axis":{"orient":"left","values":[1,10,100,1000,10000],"labelExpr":"replace(format(datum.value, '~r'), '.', '·')","title":"Mean tp0574 copies","titlePadding":13}}}},
{"data":{"name":"ln"},"transform":[{"filter":"datum.p==='E'"}],"mark":{"type":"line","color":"#555","strokeWidth":0.8},"encoding":{"x":{"field":"c","type":"nominal","scale":{"type":"point"},"axis":null},"y":{"field":"y","type":"quantitative","scale":{"type":"log"},"axis":null},"detail":{"field":"b"},"order":{"field":"o"}}},
{"data":{"name":"tx"},"transform":[{"filter":"datum.p==='E'"}],"mark":{"type":"text","fontSize":8,"color":"#333","baseline":"middle"},"encoding":{"x":{"field":"c","type":"nominal","scale":{"type":"point"},"axis":null},"y":{"field":"y","type":"quantitative","scale":{"type":"log"},"axis":null},"text":{"field":"t"}}}
]},
{"width":138,"height":61,"resolve":{"axis":{"x":"independent","y":"independent"}},"layer":[
{"data":{"name":"g"},"transform":[{"filter":"datum.p==='F'"},{"fold":["lo","m","hi"],"as":["k","v"]}],"mark":{"type":"circle","size":24,"opacity":0.5,"color":"#f3aabd"},"encoding":{"x":{"field":"c","type":"nominal","scale":{"type":"point"},"axis":{"orient":"top","values":["Day 0"],"labelExpr":"'Cefixime'","labelPadding":29.5,"title":"F","titleY":-29.5}},"y":{"field":"v","type":"quantitative","scale":{"type":"log"},"axis":null}}},
{"data":{"name":"g"},"transform":[{"filter":"datum.p==='F'"}],"mark":{"type":"rule","color":"#c8103c","strokeWidth":1.1},"encoding":{"x":{"field":"c","type":"nominal","scale":{"type":"point"},"axis":null},"y":{"field":"lo","type":"quantitative","scale":{"type":"log"},"axis":null},"y2":{"field":"hi"}}},
{"data":{"name":"g"},"transform":[{"filter":"datum.p==='F'"},{"fold":["lo","hi"],"as":["k","v"]}],"mark":{"type":"tick","color":"#c8103c","size":5,"thickness":1.1},"encoding":{"x":{"field":"c","type":"nominal","scale":{"type":"point"},"axis":null},"y":{"field":"v","type":"quantitative","scale":{"type":"log"},"axis":null}}},
{"data":{"name":"g"},"transform":[{"filter":"datum.p==='F'"}],"mark":{"type":"tick","color":"#c8103c","size":9,"thickness":2},"encoding":{"x":{"field":"c","type":"nominal","scale":{"type":"point","padding":0.4,"domain":["Day 0","_1","Day 1","_2","Day 4","_3","Day 7","_4","_5","H₂O","_6","_7","0·0039 mg/L","_8","0·0078 mg/L","_9","0·0156 mg/L","_10","0·0313 mg/L*†","_11","0·0625 mg/L","_12","0·125 mg/L","_13","0·25 mg/L"]},"axis":{"orient":"bottom","title":null,"labelAngle":-90,"values":["Day 0","Day 1","Day 4","Day 7","H₂O","0·0039 mg/L","0·0078 mg/L","0·0156 mg/L","0·0313 mg/L*†","0·0625 mg/L","0·125 mg/L","0·25 mg/L"]}},"y":{"field":"m","type":"quantitative","scale":{"type":"log","domain":[1,10000]},"axis":{"orient":"left","values":[1,10,100,1000,10000],"labelExpr":"datum.value >= 10000 ? replace(format(datum.value, ','), ',', '\u2009') : replace(format(datum.value, '~r'), '.', '·')","title":null}}}},
{"data":{"name":"ln"},"transform":[{"filter":"datum.p==='F'"}],"mark":{"type":"line","color":"#555","strokeWidth":0.8},"encoding":{"x":{"field":"c","type":"nominal","scale":{"type":"point"},"axis":null},"y":{"field":"y","type":"quantitative","scale":{"type":"log"},"axis":null},"detail":{"field":"b"},"order":{"field":"o"}}},
{"data":{"name":"tx"},"transform":[{"filter":"datum.p==='F'"}],"mark":{"type":"text","fontSize":8,"color":"#333","baseline":"middle"},"encoding":{"x":{"field":"c","type":"nominal","scale":{"type":"point"},"axis":null},"y":{"field":"y","type":"quantitative","scale":{"type":"log"},"axis":null},"text":{"field":"t"}}}
]},
{"width":138,"height":61,"resolve":{"axis":{"x":"independent","y":"independent"}},"layer":[
{"data":{"name":"g"},"transform":[{"filter":"datum.p==='G'"},{"fold":["lo","m","hi"],"as":["k","v"]}],"mark":{"type":"circle","size":24,"opacity":0.5,"color":"#f3aabd"},"encoding":{"x":{"field":"c","type":"nominal","scale":{"type":"point"},"axis":{"orient":"top","values":["Day 0"],"labelExpr":"'Balofloxacin'","labelPadding":29.5,"title":"G","titleY":-29.5}},"y":{"field":"v","type":"quantitative","scale":{"type":"log"},"axis":null}}},
{"data":{"name":"g"},"transform":[{"filter":"datum.p==='G'"}],"mark":{"type":"rule","color":"#c8103c","strokeWidth":1.1},"encoding":{"x":{"field":"c","type":"nominal","scale":{"type":"point"},"axis":null},"y":{"field":"lo","type":"quantitative","scale":{"type":"log"},"axis":null},"y2":{"field":"hi"}}},
{"data":{"name":"g"},"transform":[{"filter":"datum.p==='G'"},{"fold":["lo","hi"],"as":["k","v"]}],"mark":{"type":"tick","color":"#c8103c","size":5,"thickness":1.1},"encoding":{"x":{"field":"c","type":"nominal","scale":{"type":"point"},"axis":null},"y":{"field":"v","type":"quantitative","scale":{"type":"log"},"axis":null}}},
{"data":{"name":"g"},"transform":[{"filter":"datum.p==='G'"}],"mark":{"type":"tick","color":"#c8103c","size":9,"thickness":2},"encoding":{"x":{"field":"c","type":"nominal","scale":{"type":"point","padding":0.4,"domain":["Day 0","_1","Day 1","_2","Day 4","_3","Day 7","_4","_5","H₂O","_6","_7","0·25 mg/L","_8","0·5 mg/L","_9","1 mg/L","_10","2 mg/L*†","_11","4 mg/L","_12","8 mg/L","_13","16 mg/L"]},"axis":{"orient":"bottom","title":null,"labelAngle":-90,"values":["Day 0","Day 1","Day 4","Day 7","H₂O","0·25 mg/L","0·5 mg/L","1 mg/L","2 mg/L*†","4 mg/L","8 mg/L","16 mg/L"]}},"y":{"field":"m","type":"quantitative","scale":{"type":"log","domain":[1,10000]},"axis":{"orient":"left","values":[1,10,100,1000,10000],"labelExpr":"datum.value >= 10000 ? replace(format(datum.value, ','), ',', '\u2009') : replace(format(datum.value, '~r'), '.', '·')","title":null}}}},
{"data":{"name":"ln"},"transform":[{"filter":"datum.p==='G'"}],"mark":{"type":"line","color":"#555","strokeWidth":0.8},"encoding":{"x":{"field":"c","type":"nominal","scale":{"type":"point"},"axis":null},"y":{"field":"y","type":"quantitative","scale":{"type":"log"},"axis":null},"detail":{"field":"b"},"order":{"field":"o"}}},
{"data":{"name":"tx"},"transform":[{"filter":"datum.p==='G'"}],"mark":{"type":"text","fontSize":8,"color":"#333","baseline":"middle"},"encoding":{"x":{"field":"c","type":"nominal","scale":{"type":"point"},"axis":null},"y":{"field":"y","type":"quantitative","scale":{"type":"log"},"axis":null},"text":{"field":"t"}}}
]},
{"width":138,"height":61,"resolve":{"axis":{"x":"independent","y":"independent"}},"layer":[
{"data":{"name":"g"},"transform":[{"filter":"datum.p==='H'"},{"fold":["lo","m","hi"],"as":["k","v"]}],"mark":{"type":"circle","size":24,"opacity":0.5,"color":"#f3aabd"},"encoding":{"x":{"field":"c","type":"nominal","scale":{"type":"point"},"axis":{"orient":"top","values":["Day 0"],"labelExpr":"'Tedizolid'","labelPadding":29.5,"title":"H","titleY":-29.5}},"y":{"field":"v","type":"quantitative","scale":{"type":"log"},"axis":null}}},
{"data":{"name":"g"},"transform":[{"filter":"datum.p==='H'"}],"mark":{"type":"rule","color":"#c8103c","strokeWidth":1.1},"encoding":{"x":{"field":"c","type":"nominal","scale":{"type":"point"},"axis":null},"y":{"field":"lo","type":"quantitative","scale":{"type":"log"},"axis":null},"y2":{"field":"hi"}}},
{"data":{"name":"g"},"transform":[{"filter":"datum.p==='H'"},{"fold":["lo","hi"],"as":["k","v"]}],"mark":{"type":"tick","color":"#c8103c","size":5,"thickness":1.1},"encoding":{"x":{"field":"c","type":"nominal","scale":{"type":"point"},"axis":null},"y":{"field":"v","type":"quantitative","scale":{"type":"log"},"axis":null}}},
{"data":{"name":"g"},"transform":[{"filter":"datum.p==='H'"}],"mark":{"type":"tick","color":"#c8103c","size":9,"thickness":2},"encoding":{"x":{"field":"c","type":"nominal","scale":{"type":"point","padding":0.4,"domain":["Day 0","_1","Day 1","_2","Day 4","_3","Day 7","_4","_5","DMSO","_6","_7","0·0078 mg/L","_8","0·0156 mg/L","_9","0·0313 mg/L*","_10","0·0625 mg/L†","_11","0·125 mg/L","_12","0·25 mg/L","_13","0·5 mg/L"]},"axis":{"orient":"bottom","title":null,"labelAngle":-90,"values":["Day 0","Day 1","Day 4","Day 7","DMSO","0·0078 mg/L","0·0156 mg/L","0·0313 mg/L*","0·0625 mg/L†","0·125 mg/L","0·25 mg/L","0·5 mg/L"]}},"y":{"field":"m","type":"quantitative","scale":{"type":"log","domain":[1,10000]},"axis":{"orient":"left","values":[1,10,100,1000,10000],"labelExpr":"datum.value >= 10000 ? replace(format(datum.value, ','), ',', '\u2009') : replace(format(datum.value, '~r'), '.', '·')","title":null}}}},
{"data":{"name":"ln"},"transform":[{"filter":"datum.p==='H'"}],"mark":{"type":"line","color":"#555","strokeWidth":0.8},"encoding":{"x":{"field":"c","type":"nominal","scale":{"type":"point"},"axis":null},"y":{"field":"y","type":"quantitative","scale":{"type":"log"},"axis":null},"detail":{"field":"b"},"order":{"field":"o"}}},
{"data":{"name":"tx"},"transform":[{"filter":"datum.p==='H'"}],"mark":{"type":"text","fontSize":8,"color":"#333","baseline":"middle"},"encoding":{"x":{"field":"c","type":"nominal","scale":{"type":"point"},"axis":null},"y":{"field":"y","type":"quantitative","scale":{"type":"log"},"axis":null},"text":{"field":"t"}}}
]},
{"width":138,"height":61,"resolve":{"axis":{"x":"independent","y":"independent"}},"layer":[
{"data":{"name":"g"},"transform":[{"filter":"datum.p==='I'"},{"fold":["lo","m","hi"],"as":["k","v"]}],"mark":{"type":"circle","size":24,"opacity":0.5,"color":"#f3aabd"},"encoding":{"x":{"field":"c","type":"nominal","scale":{"type":"point"},"axis":{"orient":"top","values":["Day 0"],"labelExpr":"'Dalbavancin'","labelPadding":29.5,"title":"I","titleY":-29.5}},"y":{"field":"v","type":"quantitative","scale":{"type":"log"},"axis":null}}},
{"data":{"name":"g"},"transform":[{"filter":"datum.p==='I'"}],"mark":{"type":"rule","color":"#c8103c","strokeWidth":1.1},"encoding":{"x":{"field":"c","type":"nominal","scale":{"type":"point"},"axis":null},"y":{"field":"lo","type":"quantitative","scale":{"type":"log"},"axis":null},"y2":{"field":"hi"}}},
{"data":{"name":"g"},"transform":[{"filter":"datum.p==='I'"},{"fold":["lo","hi"],"as":["k","v"]}],"mark":{"type":"tick","color":"#c8103c","size":5,"thickness":1.1},"encoding":{"x":{"field":"c","type":"nominal","scale":{"type":"point"},"axis":null},"y":{"field":"v","type":"quantitative","scale":{"type":"log"},"axis":null}}},
{"data":{"name":"g"},"transform":[{"filter":"datum.p==='I'"}],"mark":{"type":"tick","color":"#c8103c","size":9,"thickness":2},"encoding":{"x":{"field":"c","type":"nominal","scale":{"type":"point","padding":0.4,"domain":["Day 0","_1","Day 1","_2","Day 4","_3","Day 7","_4","_5","H₂O","_6","_7","0·0039 mg/L","_8","0·0078 mg/L","_9","0·0156 mg/L","_10","0·0313 mg/L","_11","0·0625 mg/L","_12","0·125 mg/L*†","_13","0·25 mg/L"]},"axis":{"orient":"bottom","title":null,"labelAngle":-90,"values":["Day 0","Day 1","Day 4","Day 7","H₂O","0·0039 mg/L","0·0078 mg/L","0·0156 mg/L","0·0313 mg/L","0·0625 mg/L","0·125 mg/L*†","0·25 mg/L"]}},"y":{"field":"m","type":"quantitative","scale":{"type":"log","domain":[1,10000]},"axis":{"orient":"left","values":[1,10,100,1000,10000],"labelExpr":"replace(format(datum.value, '~r'), '.', '·')","title":"Mean tp0574 copies","titlePadding":13}}}},
{"data":{"name":"ln"},"transform":[{"filter":"datum.p==='I'"}],"mark":{"type":"line","color":"#555","strokeWidth":0.8},"encoding":{"x":{"field":"c","type":"nominal","scale":{"type":"point"},"axis":null},"y":{"field":"y","type":"quantitative","scale":{"type":"log"},"axis":null},"detail":{"field":"b"},"order":{"field":"o"}}},
{"data":{"name":"tx"},"transform":[{"filter":"datum.p==='I'"}],"mark":{"type":"text","fontSize":8,"color":"#333","baseline":"middle"},"encoding":{"x":{"field":"c","type":"nominal","scale":{"type":"point"},"axis":null},"y":{"field":"y","type":"quantitative","scale":{"type":"log"},"axis":null},"text":{"field":"t"}}}
]},
{"width":138,"height":61,"resolve":{"axis":{"x":"independent","y":"independent"}},"layer":[
{"data":{"name":"g"},"transform":[{"filter":"datum.p==='J'"},{"fold":["lo","m","hi"],"as":["k","v"]}],"mark":{"type":"circle","size":24,"opacity":0.5,"color":"#f3aabd"},"encoding":{"x":{"field":"c","type":"nominal","scale":{"type":"point"},"axis":{"orient":"top","values":["Day 0"],"labelExpr":"'Spectinomycin'","labelPadding":29.5,"title":"J","titleY":-29.5}},"y":{"field":"v","type":"quantitative","scale":{"type":"log"},"axis":null}}},
{"data":{"name":"g"},"transform":[{"filter":"datum.p==='J'"}],"mark":{"type":"rule","color":"#c8103c","strokeWidth":1.1},"encoding":{"x":{"field":"c","type":"nominal","scale":{"type":"point"},"axis":null},"y":{"field":"lo","type":"quantitative","scale":{"type":"log"},"axis":null},"y2":{"field":"hi"}}},
{"data":{"name":"g"},"transform":[{"filter":"datum.p==='J'"},{"fold":["lo","hi"],"as":["k","v"]}],"mark":{"type":"tick","color":"#c8103c","size":5,"thickness":1.1},"encoding":{"x":{"field":"c","type":"nominal","scale":{"type":"point"},"axis":null},"y":{"field":"v","type":"quantitative","scale":{"type":"log"},"axis":null}}},
{"data":{"name":"g"},"transform":[{"filter":"datum.p==='J'"}],"mark":{"type":"tick","color":"#c8103c","size":9,"thickness":2},"encoding":{"x":{"field":"c","type":"nominal","scale":{"type":"point","padding":0.4,"domain":["Day 0","_1","Day 1","_2","Day 4","_3","Day 7","_4","_5","H₂O","_6","_7","0·02 mg/L","_8","0·04 mg/L","_9","0·1 mg/L*†","_10","0·25 mg/L","_11","0·5 mg/L","_12","1 mg/L","_13","2 mg/L"]},"axis":{"orient":"bottom","title":null,"labelAngle":-90,"values":["Day 0","Day 1","Day 4","Day 7","H₂O","0·02 mg/L","0·04 mg/L","0·1 mg/L*†","0·25 mg/L","0·5 mg/L","1 mg/L","2 mg/L"]}},"y":{"field":"m","type":"quantitative","scale":{"type":"log","domain":[10,10000]},"axis":{"orient":"left","values":[10,100,1000,10000],"labelExpr":"replace(format(datum.value, '~r'), '.', '·')","title":null}}}},
{"data":{"name":"ln"},"transform":[{"filter":"datum.p==='J'"}],"mark":{"type":"line","color":"#555","strokeWidth":0.8},"encoding":{"x":{"field":"c","type":"nominal","scale":{"type":"point"},"axis":null},"y":{"field":"y","type":"quantitative","scale":{"type":"log"},"axis":null},"detail":{"field":"b"},"order":{"field":"o"}}},
{"data":{"name":"tx"},"transform":[{"filter":"datum.p==='J'"}],"mark":{"type":"text","fontSize":8,"color":"#333","baseline":"middle"},"encoding":{"x":{"field":"c","type":"nominal","scale":{"type":"point"},"axis":null},"y":{"field":"y","type":"quantitative","scale":{"type":"log"},"axis":null},"text":{"field":"t"}}}
]},
{"width":138,"height":61,"resolve":{"axis":{"x":"independent","y":"independent"}},"layer":[
{"data":{"name":"g"},"transform":[{"filter":"datum.p==='K'"},{"fold":["lo","m","hi"],"as":["k","v"]}],"mark":{"type":"circle","size":24,"opacity":0.5,"color":"#f3aabd"},"encoding":{"x":{"field":"c","type":"nominal","scale":{"type":"point"},"axis":{"orient":"top","values":["Day 0"],"labelExpr":"'Zoliflodacin'","labelPadding":29.5,"title":"K","titleY":-29.5}},"y":{"field":"v","type":"quantitative","scale":{"type":"log"},"axis":null}}},
{"data":{"name":"g"},"transform":[{"filter":"datum.p==='K'"}],"mark":{"type":"rule","color":"#c8103c","strokeWidth":1.1},"encoding":{"x":{"field":"c","type":"nominal","scale":{"type":"point"},"axis":null},"y":{"field":"lo","type":"quantitative","scale":{"type":"log"},"axis":null},"y2":{"field":"hi"}}},
{"data":{"name":"g"},"transform":[{"filter":"datum.p==='K'"},{"fold":["lo","hi"],"as":["k","v"]}],"mark":{"type":"tick","color":"#c8103c","size":5,"thickness":1.1},"encoding":{"x":{"field":"c","type":"nominal","scale":{"type":"point"},"axis":null},"y":{"field":"v","type":"quantitative","scale":{"type":"log"},"axis":null}}},
{"data":{"name":"g"},"transform":[{"filter":"datum.p==='K'"}],"mark":{"type":"tick","color":"#c8103c","size":9,"thickness":2},"encoding":{"x":{"field":"c","type":"nominal","scale":{"type":"point","padding":0.4,"domain":["Day 0","_1","Day 1","_2","Day 4","_3","Day 7","_4","_5","DMSO","_6","_7","0·25 mg/L","_8","0·5 mg/L","_9","1 mg/L*","_10","2 mg/L†","_11","4 mg/L"]},"axis":{"orient":"bottom","title":null,"labelAngle":-90,"values":["Day 0","Day 1","Day 4","Day 7","DMSO","0·25 mg/L","0·5 mg/L","1 mg/L*","2 mg/L†","4 mg/L"]}},"y":{"field":"m","type":"quantitative","scale":{"type":"log","domain":[10,10000]},"axis":{"orient":"left","values":[10,100,1000,10000],"labelExpr":"replace(format(datum.value, '~r'), '.', '·')","title":null}}}},
{"data":{"name":"ln"},"transform":[{"filter":"datum.p==='K'"}],"mark":{"type":"line","color":"#555","strokeWidth":0.8},"encoding":{"x":{"field":"c","type":"nominal","scale":{"type":"point"},"axis":null},"y":{"field":"y","type":"quantitative","scale":{"type":"log"},"axis":null},"detail":{"field":"b"},"order":{"field":"o"}}},
{"data":{"name":"tx"},"transform":[{"filter":"datum.p==='K'"}],"mark":{"type":"text","fontSize":8,"color":"#333","baseline":"middle"},"encoding":{"x":{"field":"c","type":"nominal","scale":{"type":"point"},"axis":null},"y":{"field":"y","type":"quantitative","scale":{"type":"log"},"axis":null},"text":{"field":"t"}}}
]},
{"width":138,"height":61,"resolve":{"axis":{"x":"independent","y":"independent"}},"layer":[
{"data":{"name":"g"},"transform":[{"filter":"datum.p==='L'"},{"fold":["lo","m","hi"],"as":["k","v"]}],"mark":{"type":"circle","size":24,"opacity":0.5,"color":"#f3aabd"},"encoding":{"x":{"field":"c","type":"nominal","scale":{"type":"point"},"axis":{"orient":"top","values":["Day 0"],"labelExpr":"'Isoniazid††'","labelPadding":29.5,"title":"L","titleY":-29.5}},"y":{"field":"v","type":"quantitative","scale":{"type":"log"},"axis":null}}},
{"data":{"name":"g"},"transform":[{"filter":"datum.p==='L'"}],"mark":{"type":"rule","color":"#c8103c","strokeWidth":1.1},"encoding":{"x":{"field":"c","type":"nominal","scale":{"type":"point"},"axis":null},"y":{"field":"lo","type":"quantitative","scale":{"type":"log"},"axis":null},"y2":{"field":"hi"}}},
{"data":{"name":"g"},"transform":[{"filter":"datum.p==='L'"},{"fold":["lo","hi"],"as":["k","v"]}],"mark":{"type":"tick","color":"#c8103c","size":5,"thickness":1.1},"encoding":{"x":{"field":"c","type":"nominal","scale":{"type":"point"},"axis":null},"y":{"field":"v","type":"quantitative","scale":{"type":"log"},"axis":null}}},
{"data":{"name":"g"},"transform":[{"filter":"datum.p==='L'"}],"mark":{"type":"tick","color":"#c8103c","size":9,"thickness":2},"encoding":{"x":{"field":"c","type":"nominal","scale":{"type":"point","padding":0.4,"domain":["Day 0","_1","Day 1","_2","Day 4","_3","Day 7","_4","_5","H₂O","_6","_7","0·0078 mg/L","_8","0·0156 mg/L","_9","0·0313 mg/L","_10","0·0625 mg/L","_11","0·125 mg/L","_12","0·25 mg/L","_13","0·5 mg/L"]},"axis":{"orient":"bottom","title":null,"labelAngle":-90,"values":["Day 0","Day 1","Day 4","Day 7","H₂O","0·0078 mg/L","0·0156 mg/L","0·0313 mg/L","0·0625 mg/L","0·125 mg/L","0·25 mg/L","0·5 mg/L"]}},"y":{"field":"m","type":"quantitative","scale":{"type":"log","domain":[1,10000]},"axis":{"orient":"left","values":[1,10,100,1000,10000],"labelExpr":"replace(format(datum.value, '~r'), '.', '·')","title":null}}}},
{"data":{"name":"ln"},"transform":[{"filter":"datum.p==='L'"}],"mark":{"type":"line","color":"#555","strokeWidth":0.8},"encoding":{"x":{"field":"c","type":"nominal","scale":{"type":"point"},"axis":null},"y":{"field":"y","type":"quantitative","scale":{"type":"log"},"axis":null},"detail":{"field":"b"},"order":{"field":"o"}}},
{"data":{"name":"tx"},"transform":[{"filter":"datum.p==='L'"}],"mark":{"type":"text","fontSize":8,"color":"#333","baseline":"middle"},"encoding":{"x":{"field":"c","type":"nominal","scale":{"type":"point"},"axis":null},"y":{"field":"y","type":"quantitative","scale":{"type":"log"},"axis":null},"text":{"field":"t"}}}
]},
{"width":138,"height":50,"resolve":{"axis":{"x":"independent","y":"independent"}},"layer":[
{"data":{"name":"g"},"transform":[{"filter":"datum.p==='M'"},{"fold":["lo","m","hi"],"as":["k","v"]}],"mark":{"type":"circle","size":24,"opacity":0.5,"color":"#f3aabd"},"encoding":{"x":{"field":"c","type":"nominal","scale":{"type":"point"},"axis":{"orient":"top","values":["Day 0"],"labelExpr":"'Pyrazinamide'","labelPadding":29.5,"title":"M","titleY":-29.5}},"y":{"field":"v","type":"quantitative","scale":{"type":"log"},"axis":null}}},
{"data":{"name":"g"},"transform":[{"filter":"datum.p==='M'"}],"mark":{"type":"rule","color":"#c8103c","strokeWidth":1.1},"encoding":{"x":{"field":"c","type":"nominal","scale":{"type":"point"},"axis":null},"y":{"field":"lo","type":"quantitative","scale":{"type":"log"},"axis":null},"y2":{"field":"hi"}}},
{"data":{"name":"g"},"transform":[{"filter":"datum.p==='M'"},{"fold":["lo","hi"],"as":["k","v"]}],"mark":{"type":"tick","color":"#c8103c","size":5,"thickness":1.1},"encoding":{"x":{"field":"c","type":"nominal","scale":{"type":"point"},"axis":null},"y":{"field":"v","type":"quantitative","scale":{"type":"log"},"axis":null}}},
{"data":{"name":"g"},"transform":[{"filter":"datum.p==='M'"}],"mark":{"type":"tick","color":"#c8103c","size":9,"thickness":2},"encoding":{"x":{"field":"c","type":"nominal","scale":{"type":"point","padding":0.4,"domain":["Day 0","_1","Day 1","_2","Day 4","_3","Day 7","_4","_5","H₂O","_6","_7","1 mg/L","_8","2 mg/L","_9","4 mg/L","_10","8 mg/L","_11","16 mg/L","_12","32 mg/L","_13","64 mg/L"]},"axis":{"orient":"bottom","title":null,"labelAngle":-90,"values":["Day 0","Day 1","Day 4","Day 7","H₂O","1 mg/L","2 mg/L","4 mg/L","8 mg/L","16 mg/L","32 mg/L","64 mg/L"]}},"y":{"field":"m","type":"quantitative","scale":{"type":"log","domain":[10,10000]},"axis":{"orient":"left","values":[10,100,1000,10000],"labelExpr":"replace(format(datum.value, '~r'), '.', '·')","title":"Mean tp0574 copies","titlePadding":13}}}},
{"data":{"name":"ln"},"transform":[{"filter":"datum.p==='M'"}],"mark":{"type":"line","color":"#555","strokeWidth":0.8},"encoding":{"x":{"field":"c","type":"nominal","scale":{"type":"point"},"axis":null},"y":{"field":"y","type":"quantitative","scale":{"type":"log"},"axis":null},"detail":{"field":"b"},"order":{"field":"o"}}},
{"data":{"name":"tx"},"transform":[{"filter":"datum.p==='M'"}],"mark":{"type":"text","fontSize":8,"color":"#333","baseline":"middle"},"encoding":{"x":{"field":"c","type":"nominal","scale":{"type":"point"},"axis":null},"y":{"field":"y","type":"quantitative","scale":{"type":"log"},"axis":null},"text":{"field":"t"}}}
]},
{"width":138,"height":50,"resolve":{"axis":{"x":"independent","y":"independent"}},"layer":[
{"data":{"name":"g"},"transform":[{"filter":"datum.p==='N'"},{"fold":["lo","m","hi"],"as":["k","v"]}],"mark":{"type":"circle","size":24,"opacity":0.5,"color":"#f3aabd"},"encoding":{"x":{"field":"c","type":"nominal","scale":{"type":"point"},"axis":{"orient":"top","values":["Day 0"],"labelExpr":"'Ivermectin'","labelPadding":29.5,"title":"N","titleY":-29.5}},"y":{"field":"v","type":"quantitative","scale":{"type":"log"},"axis":null}}},
{"data":{"name":"g"},"transform":[{"filter":"datum.p==='N'"}],"mark":{"type":"rule","color":"#c8103c","strokeWidth":1.1},"encoding":{"x":{"field":"c","type":"nominal","scale":{"type":"point"},"axis":null},"y":{"field":"lo","type":"quantitative","scale":{"type":"log"},"axis":null},"y2":{"field":"hi"}}},
{"data":{"name":"g"},"transform":[{"filter":"datum.p==='N'"},{"fold":["lo","hi"],"as":["k","v"]}],"mark":{"type":"tick","color":"#c8103c","size":5,"thickness":1.1},"encoding":{"x":{"field":"c","type":"nominal","scale":{"type":"point"},"axis":null},"y":{"field":"v","type":"quantitative","scale":{"type":"log"},"axis":null}}},
{"data":{"name":"g"},"transform":[{"filter":"datum.p==='N'"}],"mark":{"type":"tick","color":"#c8103c","size":9,"thickness":2},"encoding":{"x":{"field":"c","type":"nominal","scale":{"type":"point","padding":0.4,"domain":["Day 0","_1","Day 1","_2","Day 4","_3","Day 7","_4","_5","H₂O","_6","_7","0·125 mg/L","_8","1·25 mg/L","_9","2·5 mg/L","_10","5 mg/L","_11","10 mg/L","_12","20 mg/L","_13","40 mg/L"]},"axis":{"orient":"bottom","title":null,"labelAngle":-90,"values":["Day 0","Day 1","Day 4","Day 7","H₂O","0·125 mg/L","1·25 mg/L","2·5 mg/L","5 mg/L","10 mg/L","20 mg/L","40 mg/L"]}},"y":{"field":"m","type":"quantitative","scale":{"type":"log","domain":[10,10000]},"axis":{"orient":"left","values":[10,100,1000,10000],"labelExpr":"replace(format(datum.value, '~r'), '.', '·')","title":null}}}},
{"data":{"name":"ln"},"transform":[{"filter":"datum.p==='N'"}],"mark":{"type":"line","color":"#555","strokeWidth":0.8},"encoding":{"x":{"field":"c","type":"nominal","scale":{"type":"point"},"axis":null},"y":{"field":"y","type":"quantitative","scale":{"type":"log"},"axis":null},"detail":{"field":"b"},"order":{"field":"o"}}},
{"data":{"name":"tx"},"transform":[{"filter":"datum.p==='N'"}],"mark":{"type":"text","fontSize":8,"color":"#333","baseline":"middle"},"encoding":{"x":{"field":"c","type":"nominal","scale":{"type":"point"},"axis":null},"y":{"field":"y","type":"quantitative","scale":{"type":"log"},"axis":null},"text":{"field":"t"}}}
]},
{"width":138,"height":50,"resolve":{"axis":{"x":"independent","y":"independent"}},"layer":[
{"data":{"name":"g"},"transform":[{"filter":"datum.p==='O'"},{"fold":["lo","m","hi"],"as":["k","v"]}],"mark":{"type":"circle","size":24,"opacity":0.5,"color":"#f3aabd"},"encoding":{"x":{"field":"c","type":"nominal","scale":{"type":"point"},"axis":{"orient":"top","values":["Day 0"],"labelExpr":"'Metronidazole'","labelPadding":29.5,"title":"O","titleY":-29.5}},"y":{"field":"v","type":"quantitative","scale":{"type":"log"},"axis":null}}},
{"data":{"name":"g"},"transform":[{"filter":"datum.p==='O'"}],"mark":{"type":"rule","color":"#c8103c","strokeWidth":1.1},"encoding":{"x":{"field":"c","type":"nominal","scale":{"type":"point"},"axis":null},"y":{"field":"lo","type":"quantitative","scale":{"type":"log"},"axis":null},"y2":{"field":"hi"}}},
{"data":{"name":"g"},"transform":[{"filter":"datum.p==='O'"},{"fold":["lo","hi"],"as":["k","v"]}],"mark":{"type":"tick","color":"#c8103c","size":5,"thickness":1.1},"encoding":{"x":{"field":"c","type":"nominal","scale":{"type":"point"},"axis":null},"y":{"field":"v","type":"quantitative","scale":{"type":"log"},"axis":null}}},
{"data":{"name":"g"},"transform":[{"filter":"datum.p==='O'"}],"mark":{"type":"tick","color":"#c8103c","size":9,"thickness":2},"encoding":{"x":{"field":"c","type":"nominal","scale":{"type":"point","padding":0.4,"domain":["Day 0","_1","Day 1","_2","Day 4","_3","Day 7","_4","_5","DMSO","_6","_7","0·0313 mg/L","_8","0·0625 mg/L","_9","0·125 mg/L","_10","0·25 mg/L","_11","0·5 mg/L","_12","1 mg/L","_13","2 mg/L"]},"axis":{"orient":"bottom","title":null,"labelAngle":-90,"values":["Day 0","Day 1","Day 4","Day 7","DMSO","0·0313 mg/L","0·0625 mg/L","0·125 mg/L","0·25 mg/L","0·5 mg/L","1 mg/L","2 mg/L"]}},"y":{"field":"m","type":"quantitative","scale":{"type":"log","domain":[10,10000]},"axis":{"orient":"left","values":[10,100,1000,10000],"labelExpr":"replace(format(datum.value, '~r'), '.', '·')","title":null}}}},
{"data":{"name":"ln"},"transform":[{"filter":"datum.p==='O'"}],"mark":{"type":"line","color":"#555","strokeWidth":0.8},"encoding":{"x":{"field":"c","type":"nominal","scale":{"type":"point"},"axis":null},"y":{"field":"y","type":"quantitative","scale":{"type":"log"},"axis":null},"detail":{"field":"b"},"order":{"field":"o"}}},
{"data":{"name":"tx"},"transform":[{"filter":"datum.p==='O'"}],"mark":{"type":"text","fontSize":8,"color":"#333","baseline":"middle"},"encoding":{"x":{"field":"c","type":"nominal","scale":{"type":"point"},"axis":null},"y":{"field":"y","type":"quantitative","scale":{"type":"log"},"axis":null},"text":{"field":"t"}}}
]},
{"width":138,"height":50,"resolve":{"axis":{"x":"independent","y":"independent"}},"layer":[
{"data":{"name":"g"},"transform":[{"filter":"datum.p==='P'"},{"fold":["lo","m","hi"],"as":["k","v"]}],"mark":{"type":"circle","size":24,"opacity":0.5,"color":"#f3aabd"},"encoding":{"x":{"field":"c","type":"nominal","scale":{"type":"point"},"axis":{"orient":"top","values":["Day 0"],"labelExpr":"'Ertapenem'","labelPadding":29.5,"title":"P","titleY":-29.5}},"y":{"field":"v","type":"quantitative","scale":{"type":"log"},"axis":null}}},
{"data":{"name":"g"},"transform":[{"filter":"datum.p==='P'"}],"mark":{"type":"rule","color":"#c8103c","strokeWidth":1.1},"encoding":{"x":{"field":"c","type":"nominal","scale":{"type":"point"},"axis":null},"y":{"field":"lo","type":"quantitative","scale":{"type":"log"},"axis":null},"y2":{"field":"hi"}}},
{"data":{"name":"g"},"transform":[{"filter":"datum.p==='P'"},{"fold":["lo","hi"],"as":["k","v"]}],"mark":{"type":"tick","color":"#c8103c","size":5,"thickness":1.1},"encoding":{"x":{"field":"c","type":"nominal","scale":{"type":"point"},"axis":null},"y":{"field":"v","type":"quantitative","scale":{"type":"log"},"axis":null}}},
{"data":{"name":"g"},"transform":[{"filter":"datum.p==='P'"}],"mark":{"type":"tick","color":"#c8103c","size":8,"thickness":2},"encoding":{"x":{"field":"c","type":"nominal","scale":{"type":"point","padding":0.4,"domain":["Day 0","_1","Day 1","_2","Day 4","_3","Day 7","_4","_5","H₂O","_6","_7","0·0375 mg/L","_8","0·075 mg/L","_9","0·15 mg/L","_10","0·3 mg/L","_11","0·6 mg/L","_12","0·8 mg/L","_13","1·2 mg/L","_14","1·6 mg/L"]},"axis":{"orient":"bottom","title":null,"labelAngle":-90,"values":["Day 0","Day 1","Day 4","Day 7","H₂O","0·0375 mg/L","0·075 mg/L","0·15 mg/L","0·3 mg/L","0·6 mg/L","0·8 mg/L","1·2 mg/L","1·6 mg/L"]}},"y":{"field":"m","type":"quantitative","scale":{"type":"log","domain":[1,10000]},"axis":{"orient":"left","values":[1,10,100,1000,10000],"labelExpr":"replace(format(datum.value, '~r'), '.', '·')","title":null}}}},
{"data":{"name":"ln"},"transform":[{"filter":"datum.p==='P'"}],"mark":{"type":"line","color":"#555","strokeWidth":0.8},"encoding":{"x":{"field":"c","type":"nominal","scale":{"type":"point"},"axis":null},"y":{"field":"y","type":"quantitative","scale":{"type":"log"},"axis":null},"detail":{"field":"b"},"order":{"field":"o"}}},
{"data":{"name":"tx"},"transform":[{"filter":"datum.p==='P'"}],"mark":{"type":"text","fontSize":8,"color":"#333","baseline":"middle"},"encoding":{"x":{"field":"c","type":"nominal","scale":{"type":"point"},"axis":null},"y":{"field":"y","type":"quantitative","scale":{"type":"log"},"axis":null},"text":{"field":"t"}}}
]}
]
}
